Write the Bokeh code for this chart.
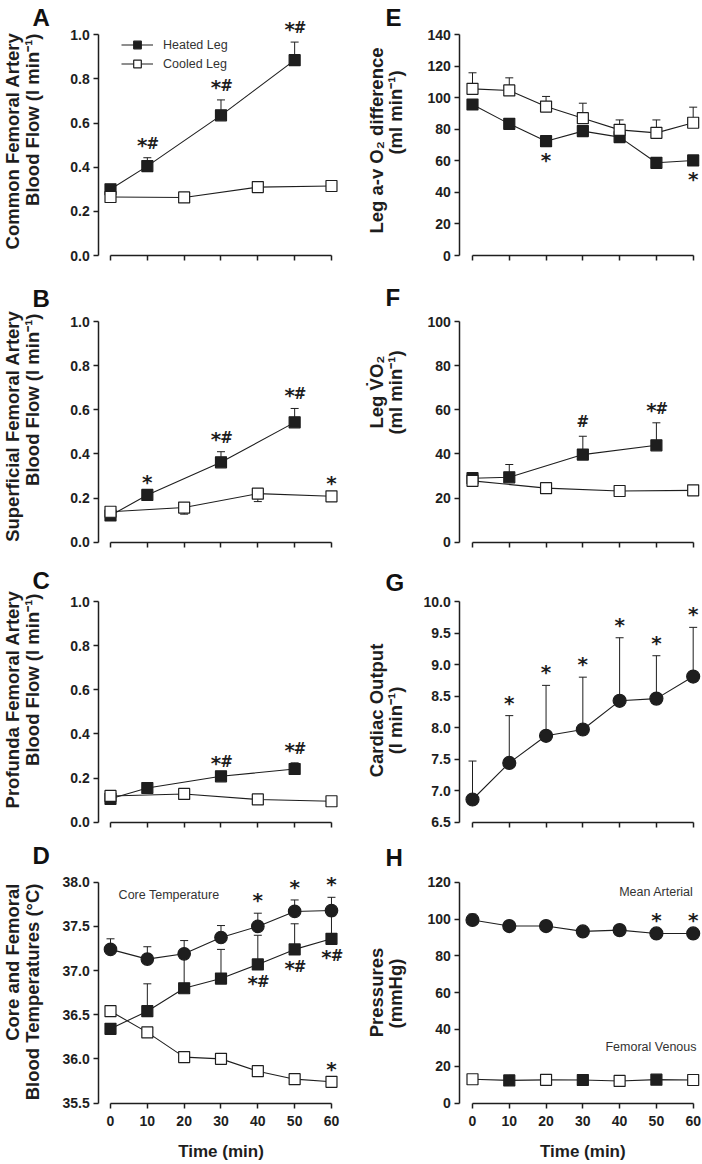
import math
from bokeh.plotting import figure
from bokeh.models import (ColumnDataSource, Whisker, TeeHead, Legend, LegendItem,
                          FixedTicker, NumeralTickFormatter, Range1d)
from bokeh.layouts import column, row
from bokeh.embed import file_html
from bokeh.resources import INLINE
from bokeh.core.properties import value

# ---------------- data ----------------
TIME = [0, 10, 20, 30, 40, 50, 60]
T_HEAT = [0, 10, 30, 50]
T_COOL = [0, 20, 40, 60]

# A  common femoral artery blood flow (l/min)
A_HEAT = [0.30, 0.405, 0.635, 0.885]
A_HEAT_ERR = [0.0, 0.038, 0.070, 0.082]
A_HEAT_SIG = ["", "*#", "*#", "*#"]
A_COOL = [0.265, 0.263, 0.31, 0.315]

# B  superficial femoral artery blood flow
B_HEAT = [0.121, 0.214, 0.362, 0.543]
B_HEAT_ERR = [0.0, 0.0, 0.048, 0.063]
B_HEAT_SIG = ["", "*", "*#", "*#"]
B_COOL = [0.138, 0.157, 0.220, 0.208]
B_COOL_ERR_DN = [0.0, 0.030, 0.036, 0.012]
B_COOL_SIG = ["", "", "", "*"]

# C  profunda femoral artery blood flow
C_HEAT = [0.106, 0.155, 0.208, 0.241]
C_HEAT_ERR = [0.0, 0.0, 0.0, 0.028]
C_HEAT_SIG = ["", "", "*#", "*#"]
C_COOL = [0.119, 0.128, 0.103, 0.095]

# D  core and femoral blood temperatures (deg C)
D_CORE = [37.24, 37.13, 37.19, 37.375, 37.50, 37.67, 37.68]
D_CORE_ERR = [0.12, 0.14, 0.15, 0.135, 0.15, 0.13, 0.15]
D_CORE_SIG = ["", "", "", "", "*", "*", "*"]
D_HEAT = [36.34, 36.54, 36.80, 36.91, 37.07, 37.24, 37.36]
D_HEAT_ERR = [0.0, 0.31, 0.34, 0.33, 0.33, 0.29, 0.26]
D_HEAT_SIG = ["", "", "", "", "*#", "*#", "*#"]
D_COOL = [36.54, 36.30, 36.02, 36.00, 35.86, 35.77, 35.74]
D_COOL_SIG = ["", "", "", "", "", "", "*"]

# E  leg a-v O2 difference (ml/min)
E_COOL = [105.7, 104.7, 94.5, 87.1, 79.7, 77.8, 84.2]
E_COOL_ERR = [10.2, 8.0, 6.4, 9.5, 6.3, 8.2, 9.9]
E_HEAT = [95.8, 83.5, 72.5, 78.9, 75.1, 58.8, 60.3]
E_HEAT_SIG = ["", "", "*", "", "", "", "*"]

# F  leg VO2 (ml/min)
F_HEAT = [29.0, 29.4, 39.7, 43.9]
F_HEAT_ERR = [2.0, 5.8, 8.3, 10.2]
F_HEAT_SIG = ["", "", "#", "*#"]
F_COOL = [27.8, 24.5, 23.2, 23.5]
F_COOL_ERR_DN = [2.2, 0.0, 0.0, 0.0]

# G  cardiac output (l/min)
G_CO = [6.86, 7.44, 7.87, 7.97, 8.425, 8.46, 8.81]
G_CO_ERR = [0.61, 0.75, 0.80, 0.83, 1.00, 0.68, 0.78]
G_CO_SIG = ["", "*", "*", "*", "*", "*", "*"]

# H  pressures (mmHg)
H_MAP = [99.5, 96.2, 96.2, 93.3, 94.0, 92.2, 92.2]
H_MAP_ERR = [3.2, 0.0, 0.0, 0.0, 0.0, 0.0, 0.0]
H_MAP_SIG = ["", "", "", "", "", "*", "*"]
H_FV = [12.9, 12.3, 12.6, 12.5, 12.0, 12.7, 12.5]
H_FV_HEATED = [False, True, False, True, False, True, False]

FLOW_TICKS = [0.0, 0.2, 0.4, 0.6, 0.8, 1.0]
TEMP_TICKS = [35.5, 36.0, 36.5, 37.0, 37.5, 38.0]
AVO2_TICKS = [0, 20, 40, 60, 80, 100, 120, 140]
VO2_TICKS = [0, 20, 40, 60, 80, 100]
CO_TICKS = [6.5, 7.0, 7.5, 8.0, 8.5, 9.0, 9.5, 10.0]
P_TICKS = [0, 20, 40, 60, 80, 100, 120]

# ---------------- layout / style ----------------
FONT = "Liberation Sans"
SIG_FONT = "DejaVu Sans"
INK = "#1e1e1e"
GREY = "#333333"
ROW_Y = [0, 284, 564, 840, 1164]     # page px of each row's top (and end)
LO_PX = [255, 541.7, 821.7, 1102.5]  # page px of each row's lowest y tick
COL_X = [0, 352, 702]
ZERO_PX = [110, 472]                 # page px of t = 0
XSCALE = [3.683, 3.678]              # px per minute
AXIS_X_PX = [98.3, 459.3]            # page px of the y axis line
AXIS_PX = 220.7                      # px length of every y axis


class Panel:
    def __init__(self, col, r, ticks, fmt, bottom=False):
        self.col, self.r = col, r
        lo, hi = ticks[0], ticks[-1]
        self.lo, self.hi = lo, hi
        self.k = (hi - lo) / AXIS_PX
        W = COL_X[col + 1] - COL_X[col]
        H = ROW_Y[r + 1] - ROW_Y[r]
        p = figure(frame_width=W, frame_height=H,
                   x_range=Range1d(self.X(COL_X[col]), self.X(COL_X[col + 1])),
                   y_range=Range1d(self.Y(ROW_Y[r + 1]), self.Y(ROW_Y[r])),
                   output_backend="svg", toolbar_location=None,
                   min_border_left=0, min_border_right=0,
                   min_border_top=0, min_border_bottom=0)
        p.outline_line_color = None
        p.grid.visible = False
        p.background_fill_color = "white"
        p.border_fill_color = "white"
        xa, ya = p.xaxis[0], p.yaxis[0]
        xa.fixed_location = lo
        ya.fixed_location = self.X(AXIS_X_PX[col])
        xa.bounds = (0, 60)
        ya.bounds = (lo, hi)
        xa.ticker = FixedTicker(ticks=TIME)
        ya.ticker = FixedTicker(ticks=ticks)
        ya.formatter = NumeralTickFormatter(format=fmt)
        for a in (xa, ya):
            a.axis_line_width = 1.5
            a.axis_line_color = INK
            a.major_tick_line_width = 1.5
            a.major_tick_line_color = INK
            a.major_tick_out = 5
            a.major_tick_in = 0
            a.minor_tick_out = 0
            a.minor_tick_in = 0
            a.major_label_text_font = FONT
            a.major_label_text_font_style = "bold"
            a.major_label_text_font_size = "14px"
            a.major_label_text_color = INK
        ya.major_label_standoff = 4
        if bottom:
            xa.major_label_standoff = 8
        else:
            xa.major_label_text_color = None
        self.p = p

    def X(self, px):
        return (px - ZERO_PX[self.col]) / XSCALE[self.col]

    def Y(self, py):
        return self.lo + (LO_PX[self.r] - py) * self.k

    def text(self, txt, x, y, size, bold=True, color=INK, align="left",
             baseline="middle", angle=0.0):
        self.p.text(x=[x], y=[y], text=[txt], text_font=value(FONT),
                    text_font_style="bold" if bold else "normal",
                    text_font_size=size, text_color=color,
                    text_align=align, text_baseline=baseline, angle=angle)

    def letter(self, txt, baseline_px):
        left = 32 if self.col == 0 else 385
        self.text(txt, self.X(left), self.Y(baseline_px - 8.4), "24px", color="#111111")

    def ylabel_left(self, line1, line2, top1, top2):
        rot = math.pi / 2
        self.text(line1, self.X(11.8), self.Y(top1), "18.5px", align="right", angle=rot)
        self.text(line2, self.X(31.8), self.Y(top2), "18.5px", align="right", angle=rot)

    def ylabel_right(self, line1, line2, c1, c2):
        rot = math.pi / 2
        self.text(line1, self.X(375.8), self.Y(c1), "18.5px", align="center", angle=rot)
        self.text(line2, self.X(395.0), self.Y(c2), "18.5px", align="center", angle=rot)

    def xlabel(self):
        self.text("Time (min)", 30, self.Y(1151), "17px", align="center")

    def whisk(self, xs, ys, errs, down=False):
        if down:
            lower = [y - e for y, e in zip(ys, errs)]
            upper = list(ys)
        else:
            lower = list(ys)
            upper = [y + e for y, e in zip(ys, errs)]
        src = ColumnDataSource(dict(x=xs, lo=lower, up=upper))
        head = TeeHead(size=8, line_width=1, line_color=INK)
        self.p.add_layout(Whisker(base="x", lower="lo", upper="up", source=src,
                                  dimension="height", line_color=INK, line_width=1,
                                  upper_head=None if down else head,
                                  lower_head=head if down else None))

    def line(self, xs, ys):
        return self.p.line(xs, ys, line_color=INK, line_width=1.1)

    def marks(self, xs, ys, filled, marker="square", size=11):
        flags = filled if isinstance(filled, list) else [filled] * len(xs)
        src = ColumnDataSource(dict(x=xs, y=ys, f=[INK if f else "white" for f in flags]))
        return self.p.scatter("x", "y", source=src, marker=marker, size=size,
                              fill_color="f", line_color=INK, line_width=1.2)

    def sig(self, xs, ys, errs, texts, above=True):
        # "*" drawn large, "#" drawn beside it, as in the original figure
        st = dict(x=[], y=[], t=[], dx=[])
        hs = dict(x=[], y=[], t=[], dx=[])
        for i, t in enumerate(texts):
            if not t:
                continue
            a = ys[i] + (errs[i] if above else 0.0)
            both = ("*" in t) and ("#" in t)
            if "*" in t:
                st["x"].append(xs[i]); st["y"].append(a); st["t"].append("*")
                st["dx"].append(-5.0 if both else 0.0)
            if "#" in t:
                hs["x"].append(xs[i]); hs["y"].append(a); hs["t"].append("#")
                hs["dx"].append(5.5 if both else 0.0)
        for d, size, off in ((st, "20px", -13.0 if above else 18.5),
                             (hs, "15px", -14.0 if above else 17.5)):
            if not d["x"]:
                continue
            self.p.text("x", "y", text="t", source=ColumnDataSource(d),
                        x_offset="dx", y_offset=off,
                        text_align="center", text_baseline="middle",
                        text_font=value(SIG_FONT), text_font_style="bold",
                        text_font_size=size, text_color=INK)


def zeros(n):
    return [0.0] * n


# ---------------- panel A ----------------
A = Panel(0, 0, FLOW_TICKS, "0.0")
A.whisk(T_HEAT, A_HEAT, A_HEAT_ERR)
lhA = A.line(T_HEAT, A_HEAT)
lcA = A.line(T_COOL, A_COOL)
shA = A.marks(T_HEAT, A_HEAT, True)
scA = A.marks(T_COOL, A_COOL, False)
A.sig(T_HEAT, A_HEAT, A_HEAT_ERR, A_HEAT_SIG)
legA = Legend(items=[LegendItem(label="Heated Leg", renderers=[lhA, shA]),
                     LegendItem(label="Cooled Leg", renderers=[lcA, scA])],
              location=(121, 211), border_line_color=None, background_fill_alpha=0,
              padding=0, margin=0, spacing=0, glyph_width=32, glyph_height=19,
              label_height=19, label_standoff=10, label_text_font=FONT,
              label_text_font_size="12.5px", label_text_color=GREY)
A.p.add_layout(legA)
A.letter("A", 25)
A.ylabel_left("Common Femoral Artery", "Blood Flow (l min⁻¹)", 32, 33)

# ---------------- panel B ----------------
B = Panel(0, 1, FLOW_TICKS, "0.0")
B.whisk(T_HEAT, B_HEAT, B_HEAT_ERR)
B.whisk(T_COOL, B_COOL, B_COOL_ERR_DN, down=True)
B.line(T_HEAT, B_HEAT)
B.line(T_COOL, B_COOL)
B.marks(T_HEAT, B_HEAT, True)
B.marks(T_COOL, B_COOL, False)
B.sig(T_HEAT, B_HEAT, B_HEAT_ERR, B_HEAT_SIG)
B.sig(T_COOL, B_COOL, zeros(4), B_COOL_SIG)
B.letter("B", 306.5)
B.ylabel_left("Superficial Femoral Artery", "Blood Flow (l min⁻¹)", 310, 313)

# ---------------- panel C ----------------
C = Panel(0, 2, FLOW_TICKS, "0.0")
C.whisk(T_HEAT, C_HEAT, C_HEAT_ERR)
C.line(T_HEAT, C_HEAT)
C.line(T_COOL, C_COOL)
C.marks(T_HEAT, C_HEAT, True)
C.marks(T_COOL, C_COOL, False)
C.sig(T_HEAT, C_HEAT, C_HEAT_ERR, C_HEAT_SIG)
C.letter("C", 588.5)
C.ylabel_left("Profunda Femoral Artery", "Blood Flow (l min⁻¹)", 590, 593)

# ---------------- panel D ----------------
D = Panel(0, 3, TEMP_TICKS, "0.0", bottom=True)
D.whisk(TIME, D_CORE, D_CORE_ERR)
D.whisk(TIME, D_HEAT, D_HEAT_ERR)
D.line(TIME, D_CORE)
D.line(TIME, D_HEAT)
D.line(TIME, D_COOL)
D.marks(TIME, D_CORE, True, marker="circle", size=12.5)
D.marks(TIME, D_HEAT, True)
D.marks(TIME, D_COOL, False)
D.sig(TIME, D_CORE, D_CORE_ERR, D_CORE_SIG)
D.sig(TIME, D_HEAT, zeros(7), D_HEAT_SIG, above=False)
D.sig(TIME, D_COOL, zeros(7), D_COOL_SIG)
D.text("Core Temperature", 2.2, 37.86, "12.5px", bold=False, color=GREY)
D.letter("D", 863)
D.ylabel_left("Core and Femoral", "Blood Temperatures (°C)", 883, 883)
D.xlabel()

# ---------------- panel E ----------------
E = Panel(1, 0, AVO2_TICKS, "0")
E.whisk(TIME, E_COOL, E_COOL_ERR)
E.line(TIME, E_HEAT)
E.line(TIME, E_COOL)
E.marks(TIME, E_HEAT, True)
E.marks(TIME, E_COOL, False)
E.sig(TIME, E_HEAT, zeros(7), E_HEAT_SIG, above=False)
E.letter("E", 25)
E.ylabel_right("Leg a-v O₂ difference", "(ml min⁻¹)", 140, 112)

# ---------------- panel F ----------------
F = Panel(1, 1, VO2_TICKS, "0")
F.whisk(T_HEAT, F_HEAT, F_HEAT_ERR)
F.whisk(T_COOL, F_COOL, F_COOL_ERR_DN, down=True)
F.line(T_HEAT, F_HEAT)
F.line(T_COOL, F_COOL)
F.marks(T_HEAT, F_HEAT, True)
F.marks(T_COOL, F_COOL, False)
F.sig(T_HEAT, F_HEAT, F_HEAT_ERR, F_HEAT_SIG)
F.letter("F", 305)
F.ylabel_right("Leg V̇O₂", "(ml min⁻¹)", 391.5, 392)

# ---------------- panel G ----------------
G = Panel(1, 2, CO_TICKS, "0.0")
G.whisk(TIME, G_CO, G_CO_ERR)
G.line(TIME, G_CO)
G.marks(TIME, G_CO, True, marker="circle", size=13)
G.sig(TIME, G_CO, G_CO_ERR, G_CO_SIG)
G.letter("G", 590)
G.ylabel_right("Cardiac Output", "(l min⁻¹)", 710, 720)

# ---------------- panel H ----------------
Hp = Panel(1, 3, P_TICKS, "0", bottom=True)
Hp.whisk(TIME, H_MAP, H_MAP_ERR)
Hp.line(TIME, H_MAP)
Hp.line(TIME, H_FV)
Hp.marks(TIME, H_MAP, True, marker="circle", size=13)
Hp.marks(TIME, H_FV, H_FV_HEATED)
Hp.sig(TIME, H_MAP, H_MAP_ERR, H_MAP_SIG)
Hp.text("Mean Arterial", Hp.X(693), 114.7, "12.5px", bold=False, color=GREY, align="right")
Hp.text("Femoral Venous", Hp.X(696), 30.2, "12.5px", bold=False, color=GREY, align="right")
Hp.letter("H", 865)
Hp.ylabel_right("Pressures", "(mmHg)", 992, 993)
Hp.xlabel()

layout = column(row(A.p, E.p), row(B.p, F.p), row(C.p, G.p), row(D.p, Hp.p))
open("out.html", "w").write(file_html(layout, INLINE))
